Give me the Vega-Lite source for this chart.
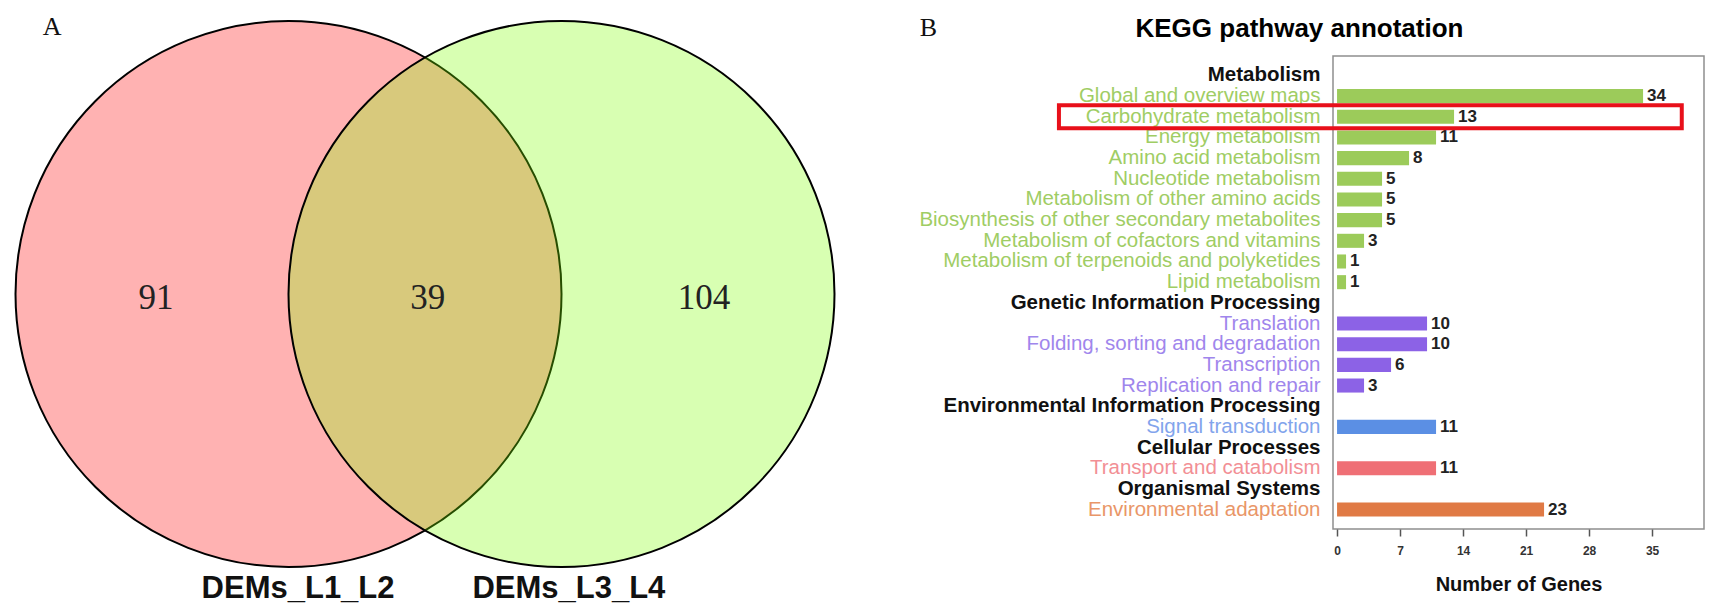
{
  "$schema": "https://vega.github.io/schema/vega-lite/v6.json",
  "padding": {"left": 0, "top": 13, "right": 0, "bottom": 0},
  "spacing": 58,
  "bounds": "full",
  "resolve": {"scale": {"color": "independent", "x": "independent", "y": "independent"}},
  "config": {"view": {"stroke": null}, "font": "Liberation Sans"},
  "hconcat": [
    {
      "width": 860,
      "height": 556,
      "layer": [
        {
          "data": {"values": [
            {"set": "DEMs_L1_L2", "cx": -0.5, "cy": -0.011},
            {"set": "DEMs_L3_L4", "cx": 0.5, "cy": -0.011}
          ]},
          "mark": {"type": "point", "shape": "circle", "filled": true, "size": 298116, "opacity": 1, "fillOpacity": 0.3, "stroke": "#000000", "strokeOpacity": 1, "strokeWidth": 2},
          "encoding": {
            "x": {"field": "cx", "type": "quantitative", "scale": {"domain": [-1.5568, 1.5934], "nice": false, "zero": false}, "axis": null},
            "y": {"field": "cy", "type": "quantitative", "scale": {"domain": [-1.1758, 0.8608], "nice": false, "zero": false}, "axis": null},
            "color": {"field": "set", "type": "nominal", "scale": {"domain": ["DEMs_L1_L2", "DEMs_L3_L4"], "range": ["#ff0000", "#7fff00"]}, "legend": null}
          }
        },
        {
          "data": {"values": [
            {"count": "91", "lx": -0.985, "ly": -0.025},
            {"count": "39", "lx": 0.01, "ly": -0.025},
            {"count": "104", "lx": 1.022, "ly": -0.025}
          ]},
          "mark": {"type": "text", "font": "Liberation Serif", "fontSize": 35, "color": "#222222", "align": "center", "baseline": "middle"},
          "encoding": {
            "x": {"field": "lx", "type": "quantitative"},
            "y": {"field": "ly", "type": "quantitative"},
            "text": {"field": "count"}
          }
        },
        {
          "data": {"values": [
            {"name": "DEMs_L1_L2", "nx": -0.465, "ny": -1.09},
            {"name": "DEMs_L3_L4", "nx": 0.527, "ny": -1.09}
          ]},
          "mark": {"type": "text", "font": "Liberation Sans", "fontSize": 31, "fontWeight": "bold", "color": "#111111", "align": "center", "baseline": "middle"},
          "encoding": {
            "x": {"field": "nx", "type": "quantitative"},
            "y": {"field": "ny", "type": "quantitative"},
            "text": {"field": "name"}
          }
        },
        {
          "data": {"values": [{"panel": "A", "px": -1.366, "py": 0.967}]},
          "mark": {"type": "text", "font": "Liberation Serif", "fontSize": 26, "color": "#111111", "align": "center", "baseline": "middle"},
          "encoding": {
            "x": {"field": "px", "type": "quantitative"},
            "y": {"field": "py", "type": "quantitative"},
            "text": {"field": "panel"}
          }
        }
      ]
    },
    {
      "width": 371,
      "height": 473,
      "view": {"stroke": "#8f8f8f", "strokeWidth": 1.5},
      "title": {"text": "KEGG pathway annotation", "font": "Liberation Sans", "fontSize": 26, "fontWeight": "bold", "color": "#000000", "anchor": "middle", "frame": "bounds", "offset": 0, "dy": 28, "dx": -12},
      "data": {"values": [
        {"name": "Global and overview maps", "group": "Metabolism", "genes": 34},
        {"name": "Carbohydrate metabolism", "group": "Metabolism", "genes": 13},
        {"name": "Energy metabolism", "group": "Metabolism", "genes": 11},
        {"name": "Amino acid metabolism", "group": "Metabolism", "genes": 8},
        {"name": "Nucleotide metabolism", "group": "Metabolism", "genes": 5},
        {"name": "Metabolism of other amino acids", "group": "Metabolism", "genes": 5},
        {"name": "Biosynthesis of other secondary metabolites", "group": "Metabolism", "genes": 5},
        {"name": "Metabolism of cofactors and vitamins", "group": "Metabolism", "genes": 3},
        {"name": "Metabolism of terpenoids and polyketides", "group": "Metabolism", "genes": 1},
        {"name": "Lipid metabolism", "group": "Metabolism", "genes": 1},
        {"name": "Translation", "group": "Genetic Information Processing", "genes": 10},
        {"name": "Folding, sorting and degradation", "group": "Genetic Information Processing", "genes": 10},
        {"name": "Transcription", "group": "Genetic Information Processing", "genes": 6},
        {"name": "Replication and repair", "group": "Genetic Information Processing", "genes": 3},
        {"name": "Signal transduction", "group": "Environmental Information Processing", "genes": 11},
        {"name": "Transport and catabolism", "group": "Cellular Processes", "genes": 11},
        {"name": "Environmental adaptation", "group": "Organismal Systems", "genes": 23}
      ]},
      "encoding": {
        "y": {
          "field": "name", "type": "nominal",
          "scale": {
            "domain": ["Metabolism", "Global and overview maps", "Carbohydrate metabolism", "Energy metabolism", "Amino acid metabolism", "Nucleotide metabolism", "Metabolism of other amino acids", "Biosynthesis of other secondary metabolites", "Metabolism of cofactors and vitamins", "Metabolism of terpenoids and polyketides", "Lipid metabolism", "Genetic Information Processing", "Translation", "Folding, sorting and degradation", "Transcription", "Replication and repair", "Environmental Information Processing", "Signal transduction", "Cellular Processes", "Transport and catabolism", "Organismal Systems", "Environmental adaptation"],
            "paddingInner": 0.32, "paddingOuter": 0.6
          },
          "axis": {
            "title": "B", "titleAngle": 0, "titleFont": "Liberation Serif", "titleFontSize": 26, "titleFontWeight": "normal", "titleColor": "#111111",
            "titleX": -405, "titleY": -29, "titleAlign": "center", "titleBaseline": "middle",
            "labelFont": "Liberation Sans", "labelFontSize": 20.5, "labelPadding": 13, "labelOverlap": false, "labelBound": false, "labelLimit": 0,
            "ticks": false, "domain": false, "grid": false,
            "labelColor": {
              "condition": [
                {"test": "indexof(['Metabolism','Genetic Information Processing','Environmental Information Processing','Cellular Processes','Organismal Systems'], datum.value) >= 0", "value": "#111111"},
                {"test": "indexof(['Translation','Folding, sorting and degradation','Transcription','Replication and repair'], datum.value) >= 0", "value": "#a086ec"},
                {"test": "datum.value === 'Signal transduction'", "value": "#82a4ec"},
                {"test": "datum.value === 'Transport and catabolism'", "value": "#f28f95"},
                {"test": "datum.value === 'Environmental adaptation'", "value": "#e99668"}
              ],
              "value": "#9fcd64"
            },
            "labelFontWeight": {
              "condition": {"test": "indexof(['Metabolism','Genetic Information Processing','Environmental Information Processing','Cellular Processes','Organismal Systems'], datum.value) >= 0", "value": "bold"},
              "value": "normal"
            }
          }
        },
        "x": {
          "field": "genes", "type": "quantitative",
          "scale": {"domain": [-0.45, 40.77], "nice": false, "zero": false},
          "axis": {
            "values": [0, 7, 14, 21, 28, 35], "title": "Number of Genes",
            "titleFont": "Liberation Sans", "titleFontSize": 20, "titleFontWeight": "bold", "titleColor": "#111111", "titlePadding": 18,
            "labelFont": "Liberation Sans", "labelFontSize": 12, "labelFontWeight": "bold", "labelColor": "#333333", "labelPadding": 9,
            "tickSize": 7, "tickColor": "#555555", "tickWidth": 1.5, "domain": false, "grid": false
          }
        }
      },
      "layer": [
        {
          "mark": {"type": "bar"},
          "encoding": {
            "color": {"field": "group", "type": "nominal", "scale": {"domain": ["Metabolism", "Genetic Information Processing", "Environmental Information Processing", "Cellular Processes", "Organismal Systems"], "range": ["#9ccb5a", "#8c62e6", "#5b8fe4", "#ef6f75", "#e07a45"]}, "legend": null}
          }
        },
        {
          "mark": {"type": "text", "align": "left", "baseline": "middle", "dx": 4, "fontSize": 17, "fontWeight": "bold", "color": "#222222", "font": "Liberation Sans"},
          "encoding": {"text": {"field": "genes", "type": "quantitative"}}
        },
        {
          "data": {"values": [{"name": "Carbohydrate metabolism", "from": -30.9, "to": 38.3}]},
          "mark": {"type": "bar", "height": 23, "fill": "transparent", "stroke": "#e8101a", "strokeWidth": 4},
          "encoding": {
            "x": {"field": "from", "type": "quantitative"},
            "x2": {"field": "to"}
          }
        }
      ]
    }
  ]
}
